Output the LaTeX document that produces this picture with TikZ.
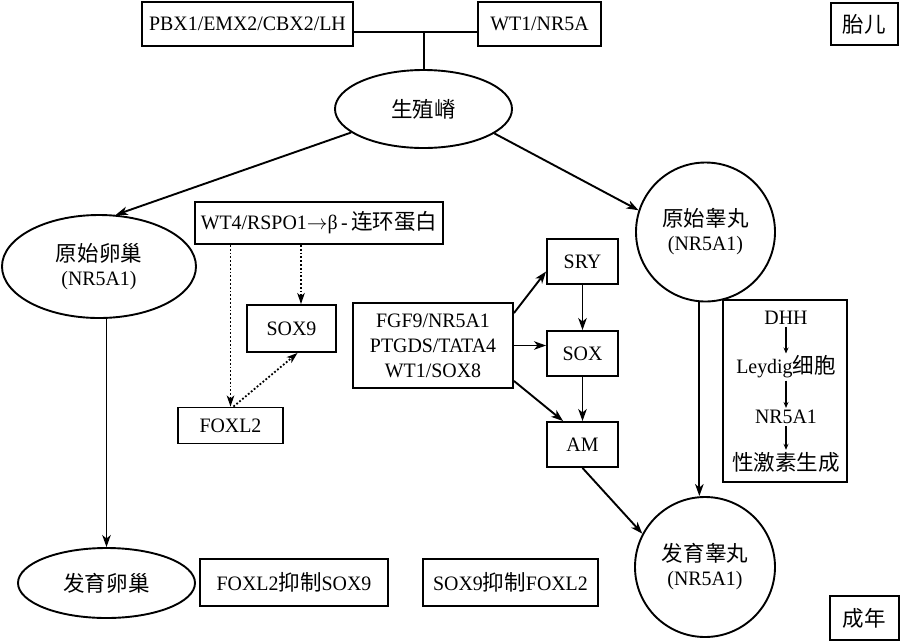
\documentclass[tikz,border=0pt]{standalone}
\usepackage{fontspec}
\setmainfont{Liberation Serif}[FakeStretch=0.97]
\newfontfamily\cjk{Noto Sans CJK SC}[Scale=1.05]
\usetikzlibrary{arrows.meta,shapes.geometric}
\begin{document}
\begin{tikzpicture}[x=1pt,y=-1pt,
  every node/.style={font=\fontsize{20.5}{24}\selectfont, align=center, inner sep=0pt},
  box/.style={draw, line width=1.9pt, rectangle},
  ell/.style={draw, line width=1.9pt, ellipse},
  circ/.style={draw, line width=1.9pt, circle},
  plain/.style={line width=1.9pt},
  arr/.style={line width=1.9pt, -{Stealth[length=12pt,width=8.5pt,inset=3.5pt]}},
  dotarr/.style={line width=1.8pt, dotted, -{Stealth[length=11pt,width=7.5pt,inset=3pt]}},
  smallarr/.style={line width=1.2pt, -{Stealth[length=6pt,width=5pt,inset=2pt]}},
  txt/.style={inner sep=2pt},
]
\useasboundingbox (0,0) rectangle (900,641);

% top row
\node[box, minimum width=211, minimum height=44] (pbx) at (247.5,24) {PBX1/EMX2/CBX2/LH};
\node[box, minimum width=123, minimum height=44] (wt1) at (539.5,24) {WT1/NR5A};
\node[box, minimum width=67, minimum height=42] (fetal) at (864.5,24) {{\cjk 胎儿}};
\coordinate (j) at (424,32);
\draw[plain] (pbx.east |- j) -- (wt1.west |- j);

% genital ridge
\node[ell, minimum width=177, minimum height=78] (gr) at (423.5,109) {{\cjk 生殖嵴}};
\draw[plain] (j) -- (gr.north -| j);

% primitive ovary / testis
\node[ell, minimum width=194, minimum height=103] (ov) at (99,266.5) {{\cjk 原始卵巢}\\(NR5A1)};
\node[circ, minimum size=139] (ts) at (705.5,232) {{\cjk 原始睾丸}\\(NR5A1)};
\draw[arr] (gr.198) -- (ov.72);
\draw[arr] (gr.-19.5) -- (ts.162);

% ovary pathway
\node[box, minimum width=248, minimum height=42] (wt4) at (319,223) {WT4/RSPO1$\rightarrow$β\,-\,{\cjk 连环蛋白}};
\node[box, minimum width=89, minimum height=47] (sox9) at (291.5,328.5) {SOX9};
\node[box, minimum width=105, minimum height=36] (foxl2) at (230.5,425.5) {FOXL2};
\draw[dotarr] (wt4.south -| foxl2.north) -- (foxl2.north);
\draw[dotarr] (wt4.south -| 301,0) -- (sox9.north -| 301,0);
\draw[dotarr] ([xshift=3pt]foxl2.north) -- ([xshift=6pt]sox9.south);

% testis pathway
\node[box, minimum width=160, minimum height=85, font=\fontsize{20.5}{25}\selectfont] (fgf) at (433,345.5) {FGF9/NR5A1\\PTGDS/TATA4\\WT1/SOX8};
\node[box, minimum width=71, minimum height=45] (sry) at (582.5,261.5) {SRY};
\node[box, minimum width=71, minimum height=45] (sox) at (582.5,353.5) {SOX};
\node[box, minimum width=71, minimum height=45] (am) at (582.5,444.5) {AM};
\draw[arr] ([yshift=-11pt]fgf.north east) -- ([yshift=-10pt]sry.west);
\draw[arr] (fgf.east) -- (fgf.east -| sox.west);
\draw[arr] ([yshift=8pt]fgf.south east) -- ([xshift=17pt]am.north west);
\draw[arr] (sry.south) -- (sox.north);
\draw[arr] (sox.south) -- (am.north);

% DHH box
\node[box, minimum width=124, minimum height=182] (dhh) at (785,391) {};
\node[txt] (t1) at (786,318) {DHH};
\node[txt] (t2) at (786,367) {Leydig{\cjk 细胞}};
\node[txt] (t3) at (786,417) {NR5A1};
\node[txt] (t4) at (786,462) {{\cjk 性激素生成}};
\draw[smallarr] (t1.south) -- (t2.north);
\draw[smallarr] (t2.south) -- (t3.north);
\draw[smallarr] (t3.south) -- (t4.north);

% bottom row
\node[ell, minimum width=177, minimum height=70] (dov) at (106.5,583) {{\cjk 发育卵巢}};
\node[box, minimum width=188, minimum height=47] (fs) at (294,582.5) {FOXL2{\cjk 抑制}SOX9};
\node[box, minimum width=175, minimum height=47] (sf) at (510.5,582.5) {SOX9{\cjk 抑制}FOXL2};
\node[circ, minimum size=140] (dts) at (705,567) {{\cjk 发育睾丸}\\(NR5A1)};
\node[box, minimum width=69, minimum height=44] (adult) at (864.5,618) {{\cjk 成年}};

\draw[arr] (dov.north |- ov.south) -- (dov.north);
\draw[arr] (ts.-95) -- (dts.north -| ts.-95);
\draw[arr] (am.south) -- (dts.152);
\end{tikzpicture}
\end{document}
